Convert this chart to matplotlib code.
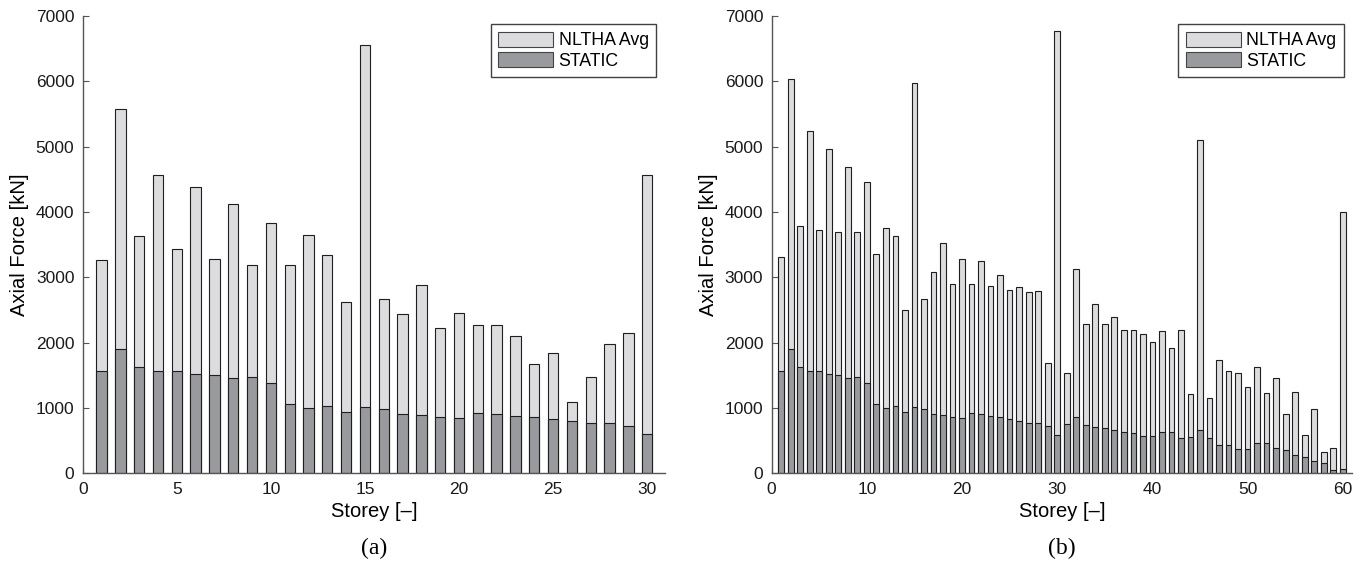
import numpy as np
import matplotlib
matplotlib.use("Agg")
import matplotlib.pyplot as plt

plt.rcParams['font.family'] = ['Liberation Sans', 'DejaVu Sans']

# (a) 30-storey frame
storeys_a = list(range(1, 31))
nltha_a = [3272, 5575, 3639, 4572, 3440, 4378, 3287, 4128, 3195, 3827,
           3190, 3649, 3343, 2615, 6549, 2670, 2431, 2879, 2227, 2456,
           2263, 2272, 2104, 1676, 1844, 1095, 1468, 1972, 2141, 4572]
static_a = [1564, 1896, 1625, 1569, 1560, 1514, 1498, 1457, 1468, 1376,
            1055, 994, 1024, 942, 1019, 988, 902, 887, 856, 841,
            917, 911, 871, 856, 826, 804, 765, 765, 719, 596]

# (b) 60-storey frame
storeys_b = list(range(1, 61))
nltha_b = [3307, 6034, 3786, 5244, 3720, 4969, 3690, 4694, 3695, 4459,
           3353, 3761, 3634, 2497, 5973, 2670, 3083, 3532, 2894, 3287,
           2905, 3251, 2869, 3043, 2813, 2854, 2783, 2798, 1687, 6768,
           1538, 3135, 2287, 2593, 2278, 2394, 2196, 2196, 2130, 2003,
           2171, 1911, 2196, 1213, 5107, 1156, 1728, 1560, 1538, 1325,
           1621, 1233, 1453, 902, 1239, 581, 988, 330, 382, 4006]
static_b = [1564, 1896, 1625, 1569, 1560, 1514, 1498, 1457, 1468, 1381,
            1055, 994, 1024, 942, 1019, 988, 902, 887, 856, 841,
            917, 911, 874, 856, 826, 804, 765, 765, 719, 590,
            759, 856, 744, 713, 697, 667, 631, 611, 570, 570,
            627, 627, 540, 555, 662, 535, 438, 433, 377, 367,
            464, 459, 382, 352, 285, 245, 183, 153, 50, 70]

light = '#dcdcde'
dark = '#999a9e'
edge = '#1e1e1e'
axis_col = '#555555'


def draw_panel(ax, x, nltha, static, width, xmax, xticks, tag):
    ax.bar(x, nltha, width=width, color=light, edgecolor=edge,
           linewidth=0.8, label='NLTHA Avg', zorder=2)
    ax.bar(x, static, width=width, color=dark, edgecolor=edge,
           linewidth=0.8, label='STATIC', zorder=3)
    ax.set_xlim(0, xmax)
    ax.set_ylim(0, 7000)
    ax.set_xticks(xticks)
    ax.set_yticks(np.arange(0, 7001, 1000))
    for s in ['top', 'right']:
        ax.spines[s].set_visible(False)
    for s in ['left', 'bottom']:
        ax.spines[s].set_color(axis_col)
        ax.spines[s].set_linewidth(1.0)
        ax.spines[s].set_zorder(4)
    ax.tick_params(direction='in', length=4, width=0.8, color=axis_col,
                   labelsize=12.5, labelcolor='#1a1a1a', pad=6)
    ax.set_xlabel('Storey [–]', fontsize=14.5, labelpad=4)
    ax.set_ylabel('Axial Force [kN]', fontsize=14.5, labelpad=5)
    leg = ax.legend(loc='upper right', bbox_to_anchor=(0.985, 0.982),
                    fontsize=12.8, frameon=True, fancybox=False,
                    handlelength=3.1, handleheight=0.95, handletextpad=0.3,
                    borderpad=0.42, labelspacing=0.15, borderaxespad=0)
    leg.get_frame().set_edgecolor('#111111')
    leg.get_frame().set_linewidth(1.0)
    for h in leg.legend_handles:
        h.set_edgecolor('#444444')
    pos = ax.get_position()
    fig.text(pos.x0 + pos.width / 2, 0.027, tag,
             family=['Liberation Serif', 'DejaVu Serif'], fontsize=17,
             ha='center', va='center')


fig = plt.figure(figsize=(13.65, 5.64), dpi=100)
ax_a = fig.add_axes([0.0606, 0.1608, 0.4266, 0.8108])
ax_b = fig.add_axes([0.5653, 0.1608, 0.4254, 0.8108])

draw_panel(ax_a, storeys_a, nltha_a, static_a, 0.55, 30.95, [0, 5, 10, 15, 20, 25, 30], '(a)')
draw_panel(ax_b, storeys_b, nltha_b, static_b, 0.6, 61, [0, 10, 20, 30, 40, 50, 60], '(b)')

fig.savefig('out.png', dpi=100)
